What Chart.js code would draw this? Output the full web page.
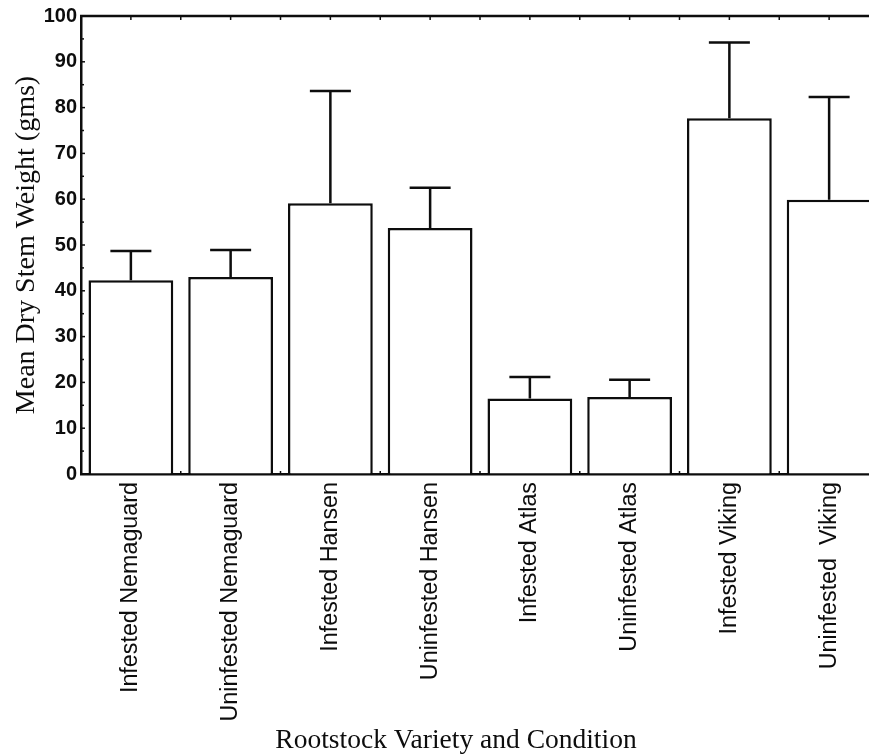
<!DOCTYPE html>
<html>
<head>
<meta charset="utf-8">
<script src="https://cdn.jsdelivr.net/npm/chart.js@4/dist/chart.umd.min.js"></script>
<style>
  html, body { margin: 0; padding: 0; background: #fff; overflow: hidden; }
  #wrap { position: absolute; left: 0; top: 0; width: 912px; height: 755px; }
</style>
</head>
<body>
<div id="wrap"><canvas id="c" width="912" height="755"></canvas></div>
<script>
const categories = ['Infested Nemaguard', 'Uninfested Nemaguard', 'Infested Hansen', 'Uninfested Hansen',
                    'Infested Atlas', 'Uninfested Atlas', 'Infested Viking', 'Uninfested  Viking'];
const meanWeight = [42.3, 43.0, 59.1, 53.7, 16.5, 16.8, 77.7, 59.9];
const upperError = [6.4, 5.9, 24.5, 8.8, 4.7, 3.8, 16.5, 22.4];
const yTicks = [0, 10, 20, 30, 40, 50, 60, 70, 80, 90, 100];
const yTitle = 'Mean Dry Stem Weight (gms)';
const xTitle = 'Rootstock Variety and Condition';

const INK = '#0d0d0d';

const framePlugin = {
  id: 'frame',
  afterDatasetsDraw(chart) {
    const ctx = chart.ctx;
    const xs = chart.scales.x, ys = chart.scales.y;
    const area = chart.chartArea;
    const meta = chart.getDatasetMeta(0);
    ctx.save();
    ctx.strokeStyle = INK;
    ctx.lineWidth = 2.5;
    // error bars (upper only)
    meta.data.forEach((bar, i) => {
      const x = bar.x;
      const yb = ys.getPixelForValue(meanWeight[i]);
      const yt = ys.getPixelForValue(meanWeight[i] + upperError[i]);
      ctx.beginPath();
      ctx.moveTo(x, yb);
      ctx.lineTo(x, yt);
      ctx.moveTo(x - 20.5, yt);
      ctx.lineTo(x + 20.5, yt);
      ctx.stroke();
    });
    // top axis line
    ctx.beginPath();
    ctx.moveTo(area.left - 1, area.top);
    ctx.lineTo(chart.width, area.top);
    ctx.stroke();
    // top ticks at category centres and boundaries (inward)
    const step = xs.getPixelForValue(1) - xs.getPixelForValue(0);
    ctx.lineWidth = 1.5;
    for (let i = 0; i < categories.length; i++) {
      const c = xs.getPixelForValue(i);
      [c - step / 2, c].forEach(px => {
        if (px > area.left + 2) {
          ctx.beginPath();
          ctx.moveTo(px, area.top);
          ctx.lineTo(px, area.top + 4);
          ctx.stroke();
        }
      });
      // tiny bottom ticks at boundaries
      const b = c + step / 2;
      ctx.beginPath();
      ctx.moveTo(b, area.bottom);
      ctx.lineTo(b, area.bottom - 3);
      ctx.stroke();
    }
    // left axis inward ticks (major 10, minor 5)
    for (let v = 5; v < 100; v += 5) {
      const py = ys.getPixelForValue(v);
      ctx.beginPath();
      ctx.moveTo(area.left, py);
      ctx.lineTo(area.left + (v % 10 === 0 ? 4 : 3), py);
      ctx.stroke();
    }
    // x-axis title, centred on the figure
    ctx.fillStyle = INK;
    ctx.font = '27.5px "Liberation Serif", "Times New Roman", serif';
    ctx.textAlign = 'center';
    ctx.textBaseline = 'middle';
    ctx.fillText(xTitle, chart.width / 2, 741);
    ctx.restore();
  }
};

new Chart(document.getElementById('c'), {
  type: 'bar',
  data: {
    labels: categories,
    datasets: [{
      data: meanWeight,
      backgroundColor: '#fff',
      borderColor: INK,
      borderWidth: 2.5,
      barPercentage: 0.85,
      categoryPercentage: 1.0
    }]
  },
  options: {
    responsive: false,
    animation: false,
    layout: { padding: { top: 15, left: 0, right: 33, bottom: 0 } },
    plugins: { legend: { display: false }, tooltip: { enabled: false } },
    scales: {
      x: {
        grid: { drawOnChartArea: false, drawTicks: false },
        border: { display: true, color: INK, width: 2.5 },
        ticks: {
          color: INK, maxRotation: 90, minRotation: 90, padding: 8, autoSkip: false,
          font: { family: '"Liberation Sans", Arial, sans-serif', size: 23.3 }
        },
        afterFit(scale) { scale.height = 755 - 474; }
      },
      y: {
        min: 0, max: 100,
        afterBuildTicks(scale) { scale.ticks = yTicks.map(v => ({ value: v })); },
        grid: { drawOnChartArea: false, drawTicks: false },
        border: { display: true, color: INK, width: 2.5 },
        ticks: {
          color: INK, padding: 4,
          font: { family: '"Liberation Sans", Arial, sans-serif', size: 20, weight: 'bold' }
        },
        title: {
          display: true, text: yTitle, color: INK, padding: { top: 10, bottom: 0 },
          font: { family: '"Liberation Serif", "Times New Roman", serif', size: 28 }
        },
        afterFit(scale) { scale.width = 81; }
      }
    }
  },
  plugins: [framePlugin]
});
</script>
</body>
</html>
